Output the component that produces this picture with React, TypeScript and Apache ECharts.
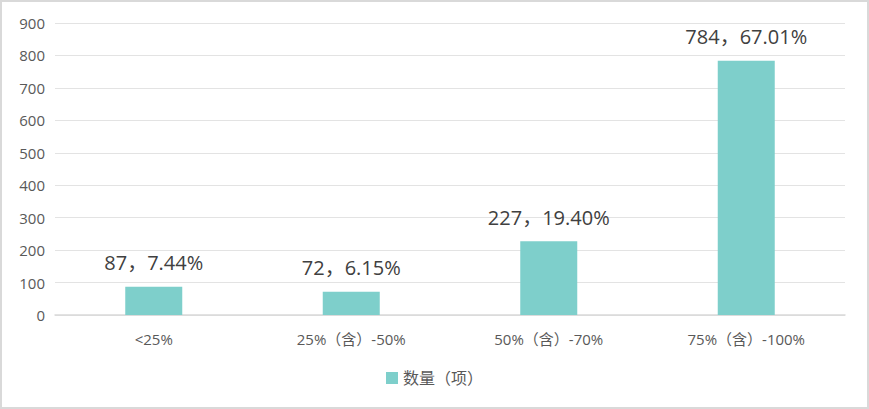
import { useEffect, useRef } from 'react';
import * as echarts from 'echarts';

const categories = ['<25%', '25%（含）-50%', '50%（含）-70%', '75%（含）-100%'];
const counts = [87, 72, 227, 784];
const shares = ['7.44%', '6.15%', '19.40%', '67.01%'];
const yTicks = [0, 100, 200, 300, 400, 500, 600, 700, 800, 900];
const seriesName = '数量（项）';

const FONT = '"Open Sans", "Noto Sans CJK SC", sans-serif';

export default function App() {
  const chartRef = useRef<HTMLDivElement>(null);

  useEffect(() => {
    document.body.style.margin = '0';
    if (!chartRef.current) return;
    const chart = echarts.init(chartRef.current, undefined, { renderer: 'svg' });

    const option: echarts.EChartsOption = {
      animation: false,
      textStyle: { fontFamily: FONT },
      grid: { left: 53, right: 22, top: 21, bottom: 92, containLabel: false },
      legend: {
        data: [seriesName],
        bottom: 16,
        left: 'center',
        icon: 'rect',
        itemWidth: 12,
        itemHeight: 12,
        itemGap: 6,
        textStyle: { color: '#595959', fontSize: 16, fontFamily: FONT },
      },
      xAxis: {
        type: 'category',
        data: categories,
        axisLine: { lineStyle: { color: '#d9d9d9', width: 1.5 } },
        axisTick: { show: false },
        axisLabel: { color: '#595959', fontSize: 15, margin: 16, fontFamily: FONT },
      },
      yAxis: {
        type: 'value',
        min: yTicks[0],
        max: yTicks[yTicks.length - 1],
        interval: 100,
        axisLine: { show: false },
        axisTick: { show: false },
        axisLabel: { color: '#595959', fontSize: 15, margin: 10, fontFamily: FONT },
        splitLine: { lineStyle: { color: '#e3e3e3', width: 1 } },
      },
      series: [
        {
          name: seriesName,
          type: 'bar',
          data: counts,
          barWidth: 57,
          itemStyle: { color: '#7ecfcb' },
          label: {
            show: true,
            position: 'top',
            distance: 14,
            color: '#404040',
            fontSize: 20,
            fontFamily: FONT,
            formatter: (p: any) => `${counts[p.dataIndex]}，${shares[p.dataIndex]}`,
          },
        },
      ],
    };

    chart.setOption(option);
    return () => {
      chart.dispose();
    };
  }, []);

  return (
    <div
      ref={chartRef}
      style={{
        width: 869,
        height: 409,
        boxSizing: 'border-box',
        border: '2px solid #d9d9d9',
        background: '#fff',
      }}
    />
  );
}
